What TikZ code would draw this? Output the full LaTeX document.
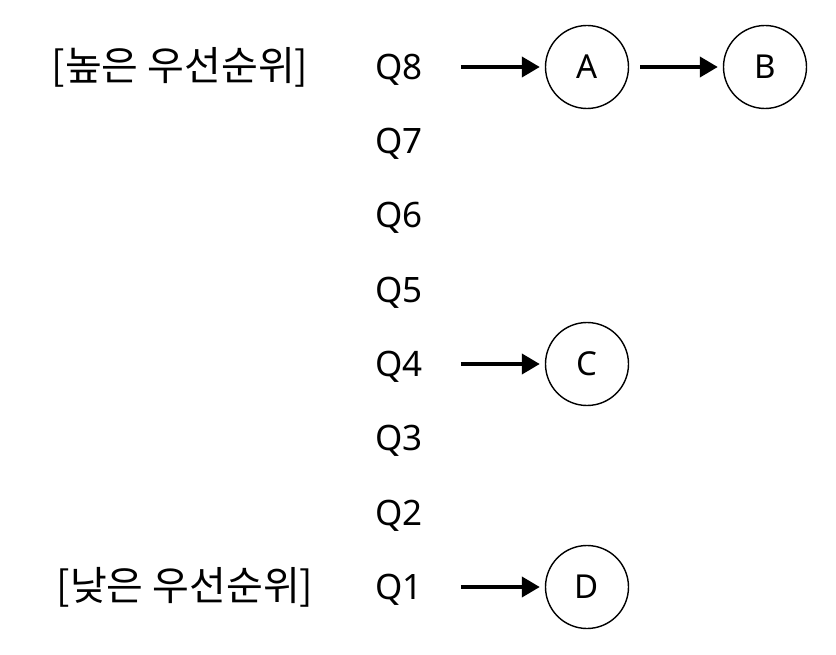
\documentclass[tikz,border=0pt]{standalone}
\usepackage{fontspec}
\setmainfont{Noto Sans}
\newfontfamily\kr{Noto Sans CJK KR}
\usetikzlibrary{arrows.meta}
\begin{document}
\begin{tikzpicture}[x=1pt,y=-1pt,
  lbl/.style={font=\fontsize{35}{38}\selectfont, inner sep=0pt, text height=25pt, text depth=0pt},
  kor/.style={font=\kr\fontsize{40}{44}\selectfont, inner sep=0pt, text height=27pt, text depth=0pt},
  circ/.style={circle, draw, line width=1.4pt, minimum size=83pt, inner sep=0pt,
    font=\fontsize{33}{36}\selectfont, text height=23pt, text depth=0pt},
  arr/.style={line width=4pt, -{Triangle[length=18pt,width=20pt]}}]
\useasboundingbox (0,0) rectangle (836,655);
\node[kor] (hi) at (180,67) {[높은 우선순위]};
\node[kor] (lo) at (185,587) {[낮은 우선순위]};
\node[lbl] (q8) at (399,67) {Q8};
\node[lbl] (q7) at (399,141) {Q7};
\node[lbl] (q6) at (399,215) {Q6};
\node[lbl] (q5) at (399,290) {Q5};
\node[lbl] (q4) at (399,364) {Q4};
\node[lbl] (q3) at (399,438) {Q3};
\node[lbl] (q2) at (399,513) {Q2};
\node[lbl] (q1) at (399,587) {Q1};
\node[circ] (A) at (587,67) {A};
\node[circ] (B) at (765,67) {B};
\node[circ] (C) at (587,364) {C};
\node[circ] (D) at (587,587) {D};
\draw[arr, shorten <=38pt, shorten >=5pt] (q8) -- (A);
\draw[arr, shorten <=11pt, shorten >=5pt] (A) -- (B);
\draw[arr, shorten <=38pt, shorten >=5pt] (q4) -- (C);
\draw[arr, shorten <=38pt, shorten >=5pt] (q1) -- (D);
\end{tikzpicture}
\end{document}
